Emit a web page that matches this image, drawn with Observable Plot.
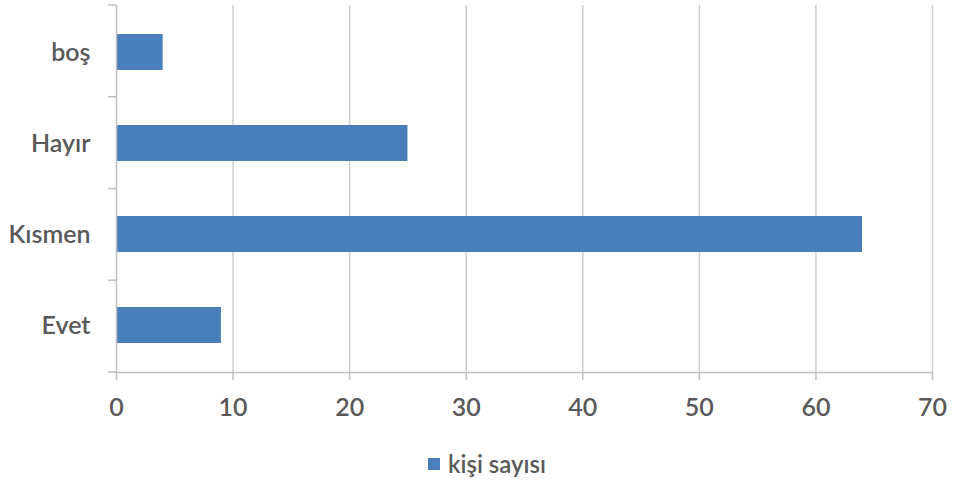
<!DOCTYPE html>
<html>
<head>
<meta charset="utf-8">
<script src="https://cdn.jsdelivr.net/npm/d3@7"></script>
<script src="https://cdn.jsdelivr.net/npm/@observablehq/plot@0.6"></script>
<style>
  html, body { margin: 0; padding: 0; background: #fff; }
  #wrap { position: relative; width: 955px; height: 485px; font-family: Lato, "Open Sans", sans-serif; }
  #legend { position: absolute; left: 428px; top: 449px; display: flex; align-items: center; gap: 8px;
            font-size: 24px; font-weight: 600; color: #595959; }
  #legend .sw { width: 12px; height: 12px; background: #4a7ebb; }
</style>
</head>
<body>
<div id="wrap">
  <div id="chart"></div>
  <div id="legend"><span class="sw"></span><span>kişi sayısı</span></div>
</div>
<script>
// Survey answers (top to bottom) and number of people per answer
const categories = ["boş", "Hayır", "Kısmen", "Evet"];
const counts = [4, 25, 64, 9];
const xTicks = [0, 10, 20, 30, 40, 50, 60, 70];
const seriesName = "kişi sayısı";

const data = categories.map((c, i) => ({category: c, value: counts[i]}));

const W = 955, H = 440;
const mTop = 5, mRight = 23, mBottom = 68, mLeft = 116;
const axisColor = "#bfbfbf";
const textColor = "#595959";

// Category boundary ticks on the vertical axis (Excel-style, between bands)
function bandBoundaries(index, scales, values, dims) {
  const g = d3.create("svg:g");
  const top = dims.marginTop, bottom = dims.height - dims.marginBottom;
  const n = categories.length;
  const step = (bottom - top) / n;
  for (let i = 0; i <= n; i++) {
    const y = top + i * step;
    g.append("line")
      .attr("x1", dims.marginLeft - 8).attr("x2", dims.marginLeft)
      .attr("y1", y).attr("y2", y)
      .attr("stroke", axisColor).attr("stroke-width", 1.5);
  }
  return g.node();
}

const chart = Plot.plot({
  width: W,
  height: H,
  marginTop: mTop,
  marginRight: mRight,
  marginBottom: mBottom,
  marginLeft: mLeft,
  style: {fontFamily: "Lato, 'Open Sans', sans-serif", fontSize: "25px", fontWeight: 600, color: textColor, background: "#fff"},
  x: {domain: [0, 70]},
  y: {domain: categories, paddingInner: 0.6, paddingOuter: 0.3},
  marks: [
    Plot.gridX(xTicks.filter(d => d > 0), {stroke: "#cfcfcf", strokeOpacity: 1, strokeWidth: 1.5}),
    Plot.barX(data, {x: "value", y: "category", fill: "#4a7ebb", title: d => `${seriesName}: ${d.value}`}),
    Plot.ruleX([0], {stroke: axisColor, strokeWidth: 1.5}),
    Plot.frame({anchor: "bottom", stroke: axisColor, strokeWidth: 1.5}),
    bandBoundaries,
    Plot.axisX(xTicks, {tickSize: 8, tickPadding: 18, stroke: axisColor, strokeWidth: 1.5, fill: textColor, label: null}),
    Plot.axisY({tickSize: 0, tickPadding: 26, fill: textColor, label: null})
  ]
});

document.getElementById("chart").appendChild(chart);
</script>
</body>
</html>
